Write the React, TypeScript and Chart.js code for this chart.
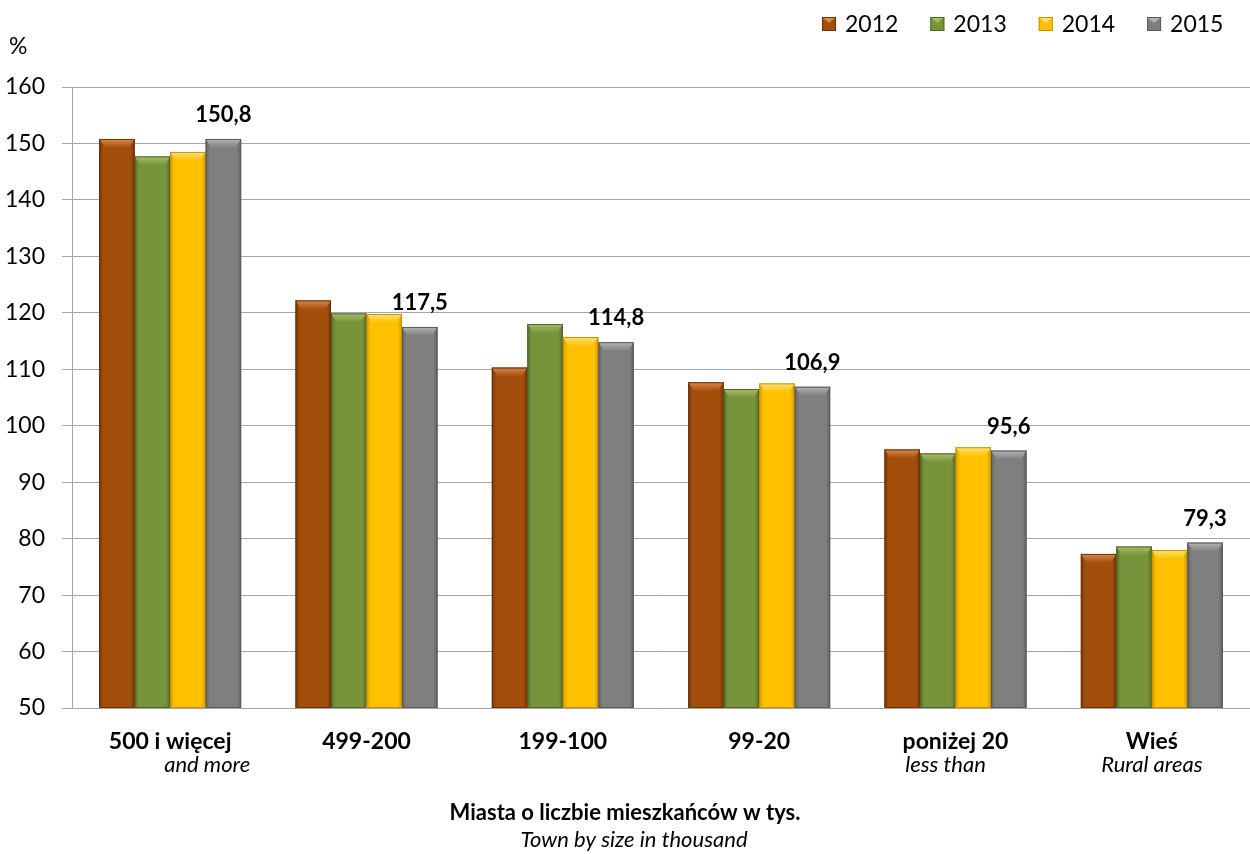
import React, { useEffect, useRef } from "react";
import { Chart, registerables } from "chart.js";

Chart.register(...registerables);

const CATEGORIES = ["500 i więcej", "499-200", "199-100", "99-20", "poniżej 20", "Wieś"];
const SUB_LABELS = ["and more", "", "", "", "less than", "Rural areas"];
const YEARS = ["2012", "2013", "2014", "2015"];
const V2012 = [150.8, 122.2, 110.3, 107.7, 95.8, 77.3];
const V2013 = [147.7, 119.9, 118.0, 106.5, 95.1, 78.6];
const V2014 = [148.5, 119.8, 115.7, 107.5, 96.2, 78.0];
const V2015 = [150.8, 117.5, 114.8, 106.9, 95.6, 79.3];
const Y_MIN = 50;
const Y_MAX = 160;
const Y_STEP = 10;
const X_TITLE = "Miasta o liczbie mieszkańców w tys.";
const X_SUBTITLE = "Town by size in thousand";
const Y_UNIT = "%";

// styling (not data)
const COLORS = ["#A34E0C", "#77933C", "#FFC000", "#7F7F7F"];
const LIGHT = ["#D98A4E", "#A6C06A", "#FFE27A", "#B5B5B5"];
const DARK = ["#6A3106", "#4F6427", "#C89200", "#5A5A5A"];
const SUB_OFFSETS = [37, 0, 0, 0, -10, 0];
const FONT = "Lato, 'Open Sans', 'DejaVu Sans', sans-serif";

const fmt = (v: number) => v.toFixed(1).replace(".", ",");

const decorPlugin = {
  id: "decor",
  afterDatasetsDraw(chart: any) {
    const ctx = chart.ctx;
    const area = chart.chartArea;
    ctx.save();
    ctx.beginPath();
    ctx.rect(area.left, 0, area.right - area.left, area.bottom);
    ctx.clip();
    chart.data.datasets.forEach((ds: any, di: number) => {
      const meta = chart.getDatasetMeta(di);
      meta.data.forEach((bar: any) => {
        const w = bar.width;
        const left = bar.x - w / 2;
        const right = bar.x + w / 2;
        const top = bar.y;
        const bottom = Math.min(bar.base, area.bottom);
        const g = ctx.createLinearGradient(left, 0, right, 0);
        g.addColorStop(0, DARK[di] + "cc");
        g.addColorStop(0.12, DARK[di] + "00");
        g.addColorStop(0.88, DARK[di] + "00");
        g.addColorStop(1, DARK[di] + "cc");
        ctx.fillStyle = g;
        ctx.fillRect(left, top, w, bottom - top);
        const bh = 9;
        ctx.beginPath();
        ctx.moveTo(left, top);
        ctx.lineTo(right, top);
        ctx.lineTo(right - 6, top + bh);
        ctx.lineTo(left + 6, top + bh);
        ctx.closePath();
        const tg = ctx.createLinearGradient(0, top, 0, top + bh);
        tg.addColorStop(0, LIGHT[di]);
        tg.addColorStop(1, COLORS[di]);
        ctx.fillStyle = tg;
        ctx.fill();
        ctx.strokeStyle = DARK[di];
        ctx.lineWidth = 1;
        ctx.strokeRect(left + 0.5, top + 0.5, w - 1, bottom - top - 1);
      });
    });
    ctx.restore();
    ctx.save();
    const lastIdx = chart.data.datasets.length - 1;
    const lastMeta = chart.getDatasetMeta(lastIdx);
    ctx.fillStyle = "#000";
    ctx.font = `bold 22px ${FONT}`;
    ctx.textAlign = "center";
    ctx.textBaseline = "middle";
    lastMeta.data.forEach((bar: any, i: number) => {
      ctx.fillText(fmt(chart.data.datasets[lastIdx].data[i]), bar.x, bar.y - 24);
    });
    ctx.restore();
  },
  afterDraw(chart: any) {
    const ctx = chart.ctx;
    const xs = chart.scales.x;
    ctx.save();
    ctx.fillStyle = "#000";
    ctx.textBaseline = "middle";
    CATEGORIES.forEach((c, i) => {
      const x = xs.getPixelForValue(i);
      ctx.font = `bold 23px ${FONT}`;
      ctx.textAlign = "center";
      ctx.fillText(c, x, 742);
      if (SUB_LABELS[i]) {
        ctx.font = `italic 22px ${FONT}`;
        ctx.fillText(SUB_LABELS[i], x + SUB_OFFSETS[i], 765);
      }
    });
    ctx.textAlign = "center";
    ctx.font = `bold 22px ${FONT}`;
    ctx.fillText(X_TITLE, 625, 813);
    ctx.font = `italic 22px ${FONT}`;
    ctx.fillText(X_SUBTITLE, 634, 840);
    ctx.textAlign = "left";
    ctx.font = `23px ${FONT}`;
    ctx.fillText(Y_UNIT, 9, 47);
    ctx.font = `23px ${FONT}`;
    let lx = 822;
    chart.data.datasets.forEach((ds: any, di: number) => {
      const by = 17;
      ctx.fillStyle = COLORS[di];
      ctx.fillRect(lx, by, 14, 14);
      ctx.fillStyle = LIGHT[di];
      ctx.beginPath();
      ctx.moveTo(lx, by);
      ctx.lineTo(lx + 14, by);
      ctx.lineTo(lx + 7, by + 6);
      ctx.closePath();
      ctx.fill();
      ctx.strokeStyle = DARK[di];
      ctx.lineWidth = 1;
      ctx.strokeRect(lx + 0.5, by + 0.5, 13, 13);
      ctx.fillStyle = "#000";
      ctx.textAlign = "left";
      ctx.fillText(ds.label, lx + 23, 25);
      lx += 23 + ctx.measureText(ds.label).width + 32;
    });
    ctx.restore();
  },
};

export default function App() {
  const ref = useRef<HTMLCanvasElement>(null);
  useEffect(() => {
    if (!ref.current) return;
    const series = [V2012, V2013, V2014, V2015];
    const chart = new Chart(ref.current, {
      type: "bar",
      data: {
        labels: CATEGORIES,
        datasets: YEARS.map((y, i) => ({
          label: y,
          data: series[i],
          backgroundColor: COLORS[i],
          borderWidth: 0,
          categoryPercentage: 0.723,
          barPercentage: 1.0,
        })),
      },
      options: {
        responsive: false,
        animation: false,
        layout: { padding: { top: 87, bottom: 138, left: 0, right: -8 } },
        plugins: {
          legend: { display: false },
          tooltip: { enabled: false },
        },
        scales: {
          x: {
            grid: { display: false },
            ticks: { display: false },
            border: { display: true, color: "#a6a6a6", width: 1 },
          },
          y: {
            min: Y_MIN,
            max: Y_MAX,
            ticks: {
              stepSize: Y_STEP,
              padding: 17,
              color: "#000",
              font: { family: FONT, size: 23 },
            },
            grid: { color: "#a6a6a6", tickLength: 10, lineWidth: 1 },
            border: { display: true, color: "#a6a6a6", width: 1 },
            afterFit: (s: any) => {
              s.width = 72;
            },
          },
        },
      },
      plugins: [decorPlugin],
    });
    return () => chart.destroy();
  }, []);
  return (
    <div style={{ position: "fixed", left: 0, top: 0, width: 1250, height: 854, background: "#fff" }}>
      <canvas ref={ref} width={1250} height={854} />
    </div>
  );
}
